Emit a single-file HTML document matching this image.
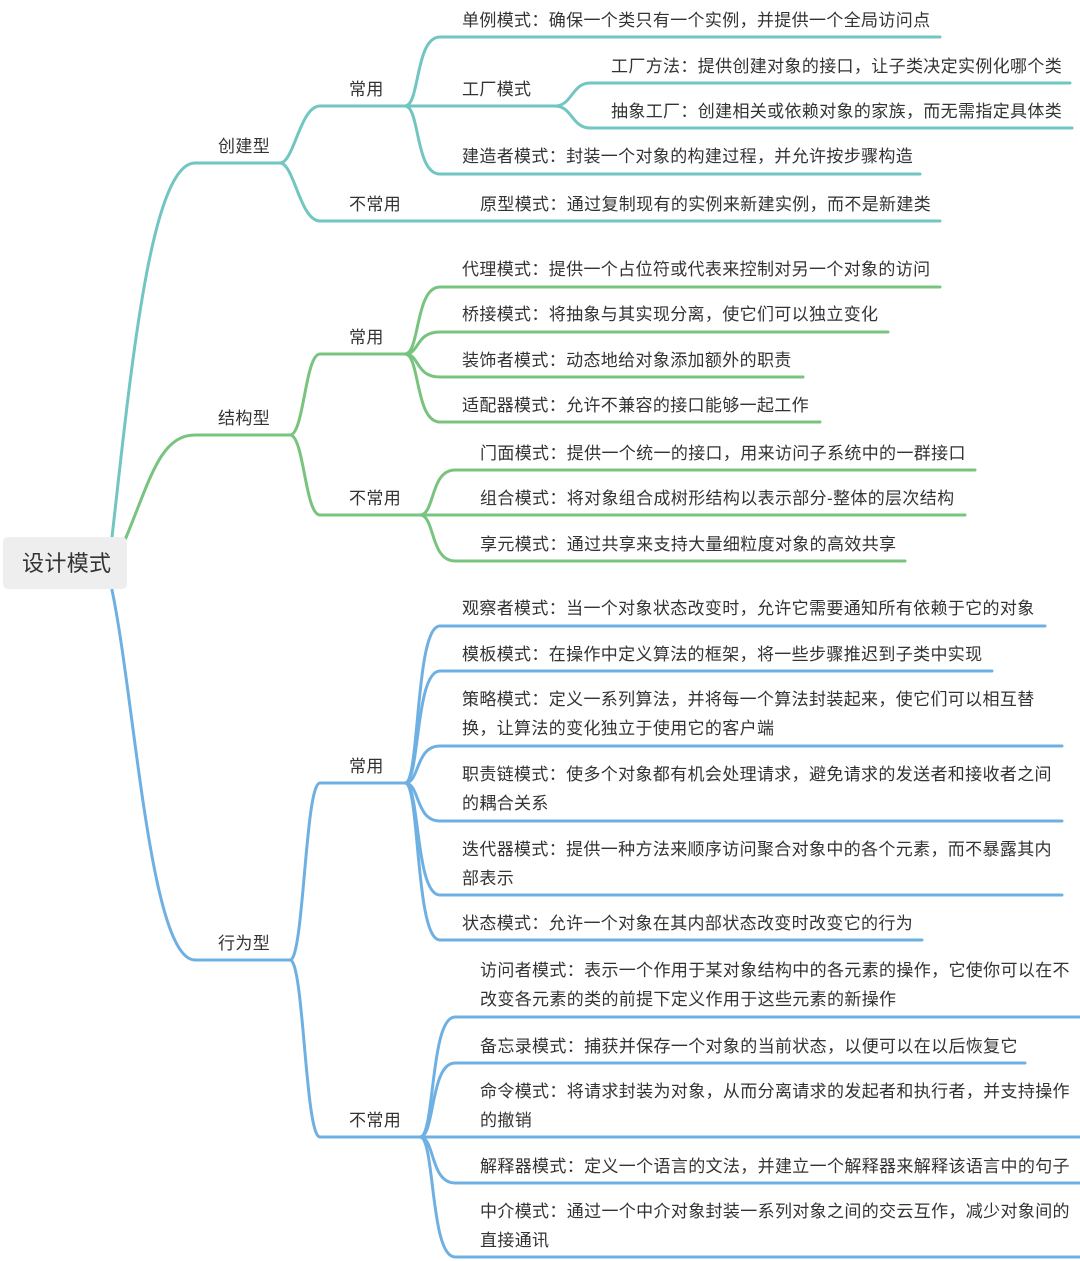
<!DOCTYPE html>
<html><head><meta charset="utf-8"><style>
html,body{margin:0;padding:0;background:#fff;}
svg{display:block}
text{font-family:"Liberation Sans","Noto Sans CJK SC",sans-serif;font-size:17px;fill:#333;dominant-baseline:central;letter-spacing:0.35px}
.t{fill:none;stroke:#72c6c2;stroke-width:3;stroke-linecap:round}
.g{fill:none;stroke:#78c47f;stroke-width:3;stroke-linecap:round}
.b{fill:none;stroke:#6fb0e3;stroke-width:3;stroke-linecap:round}
</style></head><body>
<svg width="1080" height="1261" viewBox="0 0 1080 1261" xmlns="http://www.w3.org/2000/svg">
<path class="t" d="M112,537 C130,380 150,163 195,163 H280"/>
<path class="t" d="M280,163 C294,163 300,106 320,106 H405"/>
<path class="t" d="M280,163 C294,163 300,221 320,221 H940"/>
<path class="t" d="M405,106 C420,106 415,37 440,37 H940"/>
<path class="t" d="M405,106 H555"/>
<path class="t" d="M405,106 C420,106 415,174 440,174 H920"/>
<path class="t" d="M555,106 C572,106 572,83 590,83 H1070"/>
<path class="t" d="M555,106 C572,106 572,128 590,128 H1072"/>
<path class="g" d="M125,540 C150,480 160,435 195,435 H290"/>
<path class="g" d="M290,435 C304,435 305,354 320,354 H405"/>
<path class="g" d="M290,435 C304,435 305,515 320,515 H420"/>
<path class="g" d="M405,354 C420,354 415,287 440,287 H940"/>
<path class="g" d="M405,354 C420,354 415,332 440,332 H888"/>
<path class="g" d="M405,354 C420,354 415,377 440,377 H803"/>
<path class="g" d="M405,354 C420,354 415,422 440,422 H820"/>
<path class="g" d="M420,515 C435,515 430,470 455,470 H975"/>
<path class="g" d="M420,515 H965"/>
<path class="g" d="M420,515 C435,515 430,561 455,561 H905"/>
<path class="b" d="M112,590 C135,700 150,960 195,960 H290"/>
<path class="b" d="M290,960 C304,960 305,783 320,783 H405"/>
<path class="b" d="M290,960 C304,960 305,1137 320,1137 H420"/>
<path class="b" d="M405,783 C420,783 415,626 440,626 H1045"/>
<path class="b" d="M405,783 C420,783 415,671 440,671 H992"/>
<path class="b" d="M405,783 C420,783 415,746 440,746 H1062"/>
<path class="b" d="M405,783 C420,783 415,821 440,821 H1062"/>
<path class="b" d="M405,783 C420,783 415,895 440,895 H1062"/>
<path class="b" d="M405,783 C420,783 415,940 440,940 H922"/>
<path class="b" d="M420,1137 C435,1137 430,1017 455,1017 H1080"/>
<path class="b" d="M420,1137 C435,1137 430,1063 455,1063 H1025"/>
<path class="b" d="M420,1137 H1080"/>
<path class="b" d="M420,1137 C435,1137 430,1183 455,1183 H1080"/>
<path class="b" d="M420,1137 C435,1137 430,1257 455,1257 H1080"/>
<rect x="3" y="537" width="124" height="52" rx="5" fill="#eeeeee"/>
<g transform="translate(0,1.5)">
<text x="22" y="562" style="font-size:22px">设计模式</text>
<text x="218" y="145">创建型</text>
<text x="218" y="417">结构型</text>
<text x="218" y="942">行为型</text>
<text x="349" y="88">常用</text>
<text x="349" y="203">不常用</text>
<text x="349" y="336">常用</text>
<text x="349" y="497">不常用</text>
<text x="349" y="765">常用</text>
<text x="349" y="1119">不常用</text>
<text x="462" y="19">单例模式：确保一个类只有一个实例，并提供一个全局访问点</text>
<text x="462" y="88">工厂模式</text>
<text x="611" y="65">工厂方法：提供创建对象的接口，让子类决定实例化哪个类</text>
<text x="611" y="110">抽象工厂：创建相关或依赖对象的家族，而无需指定具体类</text>
<text x="462" y="155">建造者模式：封装一个对象的构建过程，并允许按步骤构造</text>
<text x="480" y="203">原型模式：通过复制现有的实例来新建实例，而不是新建类</text>
<text x="462" y="268">代理模式：提供一个占位符或代表来控制对另一个对象的访问</text>
<text x="462" y="313">桥接模式：将抽象与其实现分离，使它们可以独立变化</text>
<text x="462" y="359">装饰者模式：动态地给对象添加额外的职责</text>
<text x="462" y="404">适配器模式：允许不兼容的接口能够一起工作</text>
<text x="480" y="452">门面模式：提供一个统一的接口，用来访问子系统中的一群接口</text>
<text x="480" y="497">组合模式：将对象组合成树形结构以表示部分-整体的层次结构</text>
<text x="480" y="543">享元模式：通过共享来支持大量细粒度对象的高效共享</text>
<text x="462" y="607">观察者模式：当一个对象状态改变时，允许它需要通知所有依赖于它的对象</text>
<text x="462" y="653">模板模式：在操作中定义算法的框架，将一些步骤推迟到子类中实现</text>
<text x="462" y="698">策略模式：定义一系列算法，并将每一个算法封装起来，使它们可以相互替</text>
<text x="462" y="727">换，让算法的变化独立于使用它的客户端</text>
<text x="462" y="773">职责链模式：使多个对象都有机会处理请求，避免请求的发送者和接收者之间</text>
<text x="462" y="802">的耦合关系</text>
<text x="462" y="848">迭代器模式：提供一种方法来顺序访问聚合对象中的各个元素，而不暴露其内</text>
<text x="462" y="877">部表示</text>
<text x="462" y="922">状态模式：允许一个对象在其内部状态改变时改变它的行为</text>
<text x="480" y="969">访问者模式：表示一个作用于某对象结构中的各元素的操作，它使你可以在不</text>
<text x="480" y="998">改变各元素的类的前提下定义作用于这些元素的新操作</text>
<text x="480" y="1045">备忘录模式：捕获并保存一个对象的当前状态，以便可以在以后恢复它</text>
<text x="480" y="1090">命令模式：将请求封装为对象，从而分离请求的发起者和执行者，并支持操作</text>
<text x="480" y="1119">的撤销</text>
<text x="480" y="1165">解释器模式：定义一个语言的文法，并建立一个解释器来解释该语言中的句子</text>
<text x="480" y="1210">中介模式：通过一个中介对象封装一系列对象之间的交云互作，减少对象间的</text>
<text x="480" y="1239">直接通讯</text>
</g>
</svg>
</body></html>
